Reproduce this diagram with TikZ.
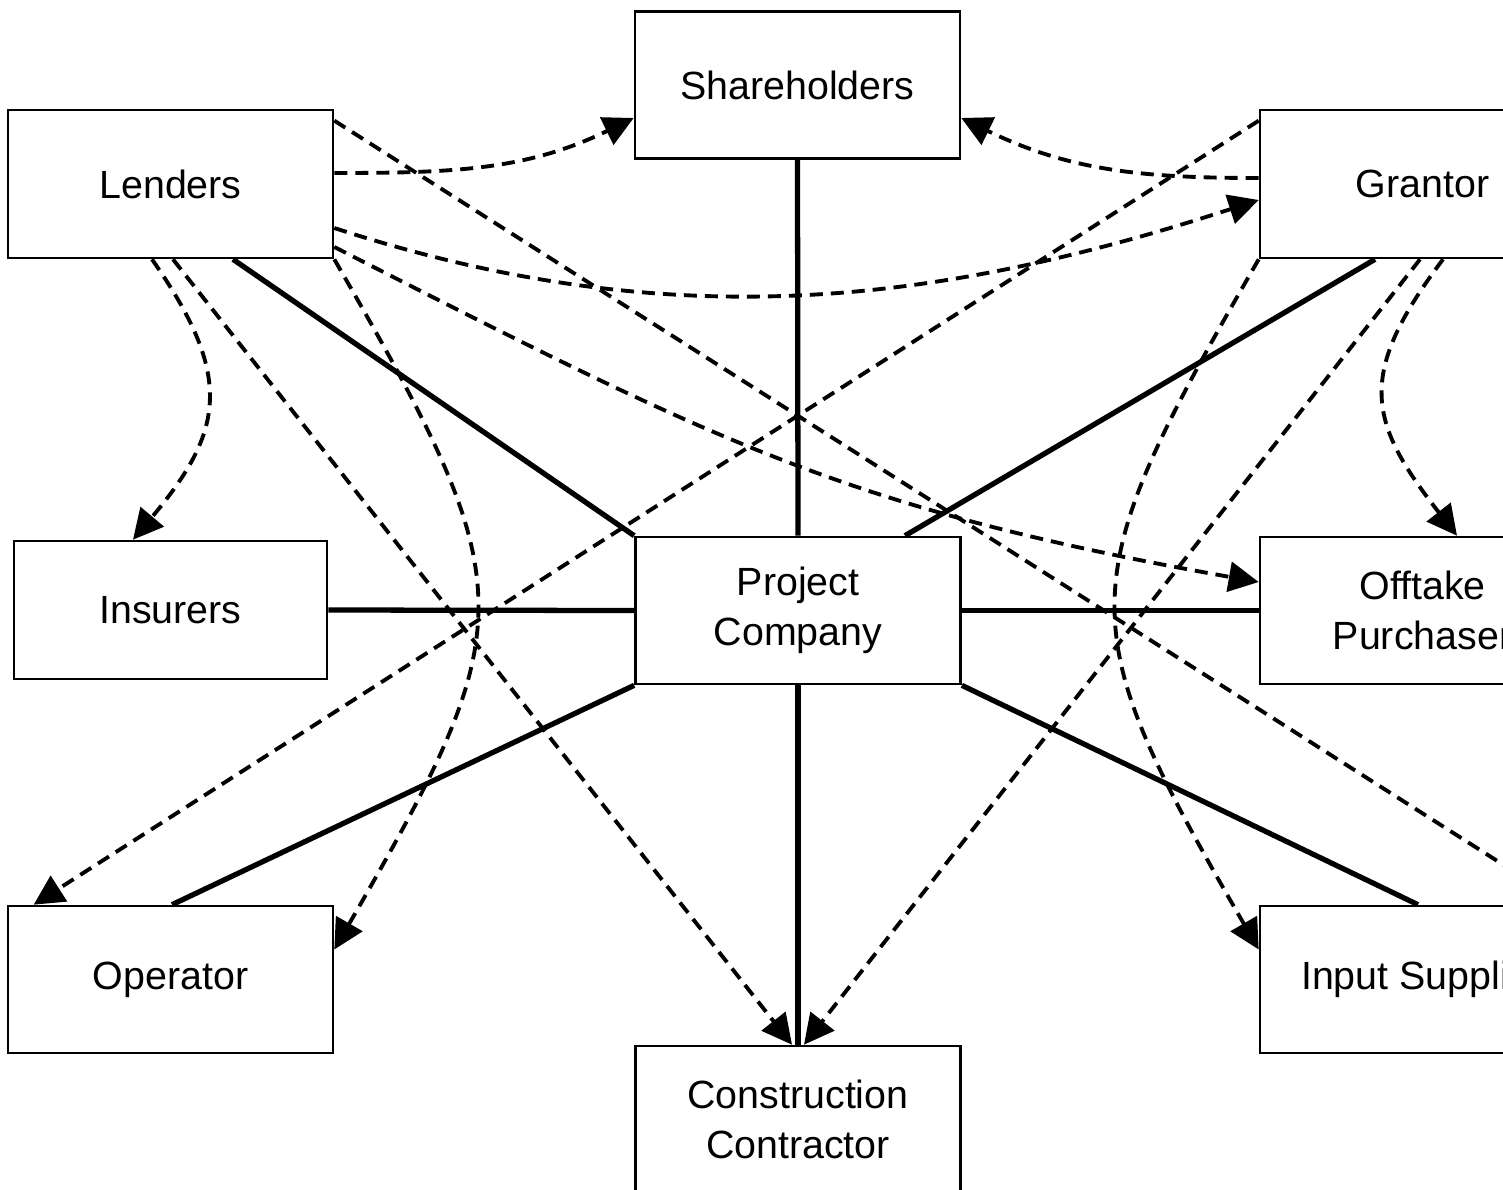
\documentclass[tikz,border=0pt]{standalone}
\usepackage{fontspec}
\setmainfont{Liberation Sans}
\usetikzlibrary{arrows.meta}

\begin{document}
\begin{tikzpicture}[x=0.2mm,y=-0.2mm,
  font=\fontsize{22.4}{28.5}\selectfont,
  party/.style={draw,line width=1.5pt,minimum width=6.5cm,minimum height=2.94cm,
    align=center,inner sep=2pt},
  tie/.style={line width=3pt},
  flow/.style={-{Triangle[length=6mm,width=6mm]},line width=2.2pt,
    dash pattern=on 2.6mm off 1.6mm}]
\useasboundingbox (0,0) rectangle (1503,1189);
\clip (0,0) rectangle (1503,1189);
% parties
\node[party] (share) at (797.5,85) {Shareholders};
\node[party,minimum height=2.96cm] (lend) at (170.5,184) {Lenders};
\node[party,minimum height=2.96cm] (grant) at (1422.5,184) {Grantor};
\node[party,minimum width=6.26cm,minimum height=2.76cm] (ins) at (170.5,610) {Insurers};
\node[party] (pc) at (798,610.5) {Project\\Company};
\node[party] (off) at (1422.5,610.5) {Offtake\\Purchaser};
\node[party] (op) at (170.5,979.5) {Operator};
\node[party] (inp) at (1422.5,979.5) {Input Supplier};
\node[party] (cc) at (798,1119.5) {Construction\\Contractor};
% contracts with the project company
\draw[tie] (share.south) -- (pc.north);
\draw[tie] ([xshift=1.25cm]lend.south) -- (pc.north west);
\draw[tie] ([xshift=-0.95cm]grant.south) -- ([xshift=2.14cm]pc.north);
\draw[tie] (ins.east) -- (pc.west);
\draw[tie] (pc.east) -- (off.west);
\draw[tie] (pc.south west) -- ([xshift=0.03cm]op.north);
\draw[tie] (pc.south east) -- ([xshift=-0.09cm]inp.north);
\draw[tie] (pc.south) -- (cc.north);
% direct agreements from the lenders
\draw[flow] ([yshift=0.22cm]lend.east) to[out=0,in=206] ([yshift=-0.66cm]share.west);
\draw[flow] ([yshift=-0.88cm]lend.east) to[out=-18,in=198,looseness=0.96] ([yshift=-0.32cm]grant.west);
\draw[flow] ([yshift=-0.24cm]lend.north east) -- ([xshift=2.87cm]inp.north);
\draw[flow] ([yshift=-1.26cm]lend.east) to[out=-27,in=170,looseness=1.1] ([yshift=0.57cm]off.west);
\draw[flow] ([xshift=-0.37cm]lend.south) to[out=-55,in=50,looseness=1.3] ([xshift=-0.75cm]ins.north);
\draw[flow] ([xshift=0.05cm]lend.south) -- ([xshift=-0.12cm]cc.north);
\draw[flow] (lend.south east) to[out=-60,in=60,looseness=1.41] ([yshift=0.6cm]op.east);
% links from the grantor
\draw[flow] ([yshift=0.12cm]grant.west) to[out=180,in=-26] ([yshift=-0.66cm]share.east);
\draw[flow] ([yshift=-0.24cm]grant.north west) -- ([xshift=0.54cm]op.north west);
\draw[flow] (grant.south west) to[out=-120,in=120,looseness=1.41] ([yshift=0.6cm]inp.west);
\draw[flow] ([xshift=-0.05cm]grant.south) -- ([xshift=0.12cm]cc.north);
\draw[flow] ([xshift=0.41cm]grant.south) to[out=-127,in=128,looseness=1.34] ([xshift=0.69cm]off.north);
\end{tikzpicture}
\end{document}
